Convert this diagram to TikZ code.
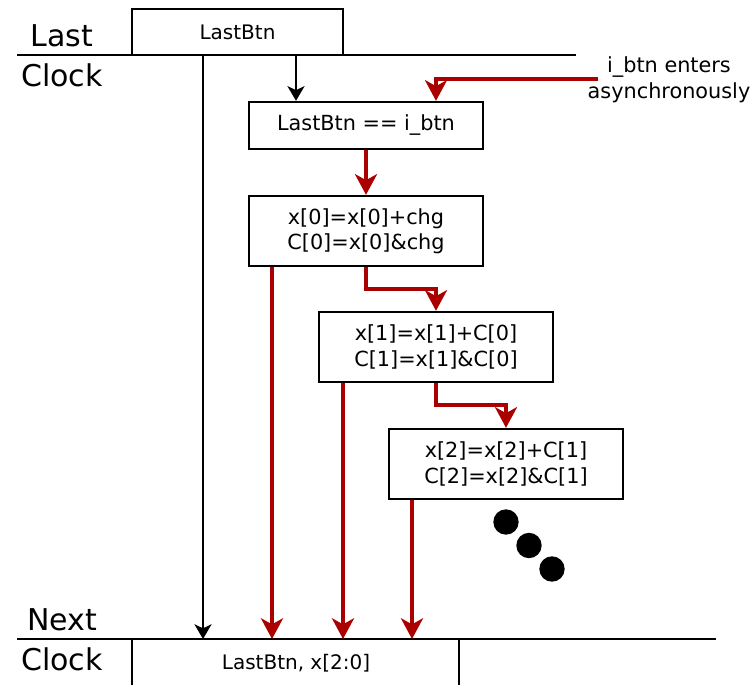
\documentclass[tikz,border=0pt]{standalone}
\usepackage{fontspec}
\setmainfont{DejaVu Sans}
\usetikzlibrary{arrows.meta}
\definecolor{sigred}{RGB}{170,0,0}
\tikzset{
  stagebox/.style={draw, line width=1.75pt, minimum width=175.5pt, minimum height=52.5pt,
    inner sep=0pt, align=center, font=\fontsize{15.6pt}{19pt}\selectfont},
  regbox/.style={inner sep=0pt, font=\fontsize{15pt}{18pt}\selectfont},
  bigtext/.style={inner sep=0pt, font=\fontsize{22.5pt}{27pt}\selectfont},
  smalltext/.style={inner sep=0pt, align=center, font=\fontsize{15.6pt}{19.5pt}\selectfont},
  clockline/.style={line width=1.75pt},
  ctrl/.style={line width=1.75pt, -{Stealth[length=11pt, width=12.75pt, inset=3pt]}},
  data/.style={line width=3.25pt, draw=sigred, line join=miter,
    -{Stealth[length=15.5pt, width=16.5pt, inset=4.5pt]}},
  dot/.style={circle, fill=black, minimum size=19pt, inner sep=0pt},
}
\begin{document}
\begin{tikzpicture}[x=0.75pt, y=-0.75pt]
\useasboundingbox (0,0) rectangle (754,685);

% clock edges
\draw[clockline] (17,55) -- (576,55);
\draw[clockline] (17,639) -- (716,639);
\node[bigtext] (last) at (62,36) {Last};
\node[bigtext] (clk1) at (62,75) {Clock};
\node[bigtext] (next) at (62,620) {Next};
\node[bigtext] (clk2) at (62,659) {Clock};

% register contents before the edge
\node[draw, line width=1.75pt, minimum width=158.25pt, minimum height=34.5pt, regbox] (reg) at (237.5,32) {LastBtn};

% register contents after the edge
\draw[clockline] (132,639) -- (132,685);
\draw[clockline] (459,639) -- (459,685);
\node[regbox] (regnext) at (296,663) {LastBtn, x[2:0]};

% logic stages
\node[stagebox, minimum height=35.25pt] (cmp) at (366,125.5) {LastBtn == i\_btn};
\node[stagebox] (s0) at (366,231) {x[0]=x[0]+chg\\C[0]=x[0]\&chg};
\node[stagebox] (s1) at (436,347) {x[1]=x[1]+C[0]\\C[1]=x[1]\&C[0]};
\node[stagebox] (s2) at (506,464) {x[2]=x[2]+C[1]\\C[2]=x[2]\&C[1]};

% continuation dots
\node[dot] (d1) at (506,522) {};
\node[dot] (d2) at (529,545.5) {};
\node[dot] (d3) at (552,569) {};

% asynchronous input
\node[smalltext] (async) at (669,80) {i\_btn enters\\asynchronously};
\coordinate (asyncend) at (598,79);

% black control arrows
\coordinate (lastsrc) at (203,55);
\coordinate (lastdst) at (203,639);
\draw[ctrl] (lastsrc) -- (lastdst);
\draw[ctrl] (296,55) -- (cmp.north -| 296,0);

% red data paths
\draw[data] (asyncend) -- (436,79) -- (cmp.north -| 436,0);
\draw[data] (cmp.south) -- (s0.north);
\draw[data] (s0.south) -- (366,289) -- (436,289) -- (s1.north);
\draw[data] (s1.south) -- (436,405) -- (506,405) -- (s2.north);
\draw[data] (s0.south -| 272,0) -- (272,639);
\draw[data] (s1.south -| 343,0) -- (343,639);
\draw[data] (s2.south -| 412,0) -- (412,639);
\end{tikzpicture}
\end{document}
